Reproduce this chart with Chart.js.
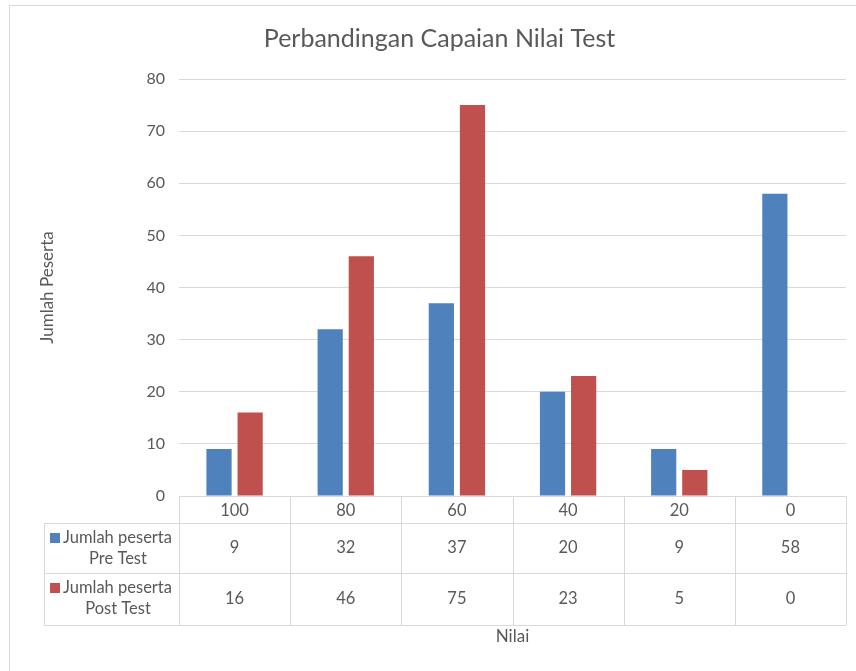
<!DOCTYPE html>
<html>
<head>
<meta charset="utf-8">
<style>
  html, body { margin: 0; padding: 0; background: #ffffff; }
  #wrap { position: relative; width: 856px; height: 671px; }
</style>
<script src="https://cdn.jsdelivr.net/npm/chart.js@4.4.0/dist/chart.umd.min.js"></script>
</head>
<body>
<div id="wrap"><canvas id="chart" width="856" height="671"></canvas></div>
<script>
// Data dari grafik
const categories = ['100', '80', '60', '40', '20', '0'];
const preTest = [9, 32, 37, 20, 9, 58];
const postTest = [16, 46, 75, 23, 5, 0];
const seriesLabels = [['Jumlah peserta', 'Pre Test'], ['Jumlah peserta', 'Post Test']];
const seriesColors = ['#4F81BD', '#C0504D'];
const yMax = 80;
const yStep = 10;

const textColor = '#595959';
const lineColor = '#D9D9D9';
const fontFamily = 'Lato, "Open Sans", sans-serif';

// Tabel data di bawah sumbu x
const dataTablePlugin = {
    id: 'dataTable',
    beforeDraw(chart) {
        const ctx = chart.ctx;
        ctx.save();
        ctx.fillStyle = '#ffffff';
        ctx.fillRect(0, 0, chart.width, chart.height);
        ctx.strokeStyle = lineColor;
        ctx.lineWidth = 1;
        ctx.strokeRect(9.5, 5.5, chart.width + 20, chart.height + 20);
        ctx.restore();
    },
    afterDraw(chart) {
        const ctx = chart.ctx;
        const area = chart.chartArea;
        const xScale = chart.scales.x;
        const colW = (area.right - area.left) / categories.length;
        const top = area.bottom;
        const headBottom = top + 27;
        const row1Bottom = headBottom + 50;
        const row2Bottom = row1Bottom + 52;
        const legendLeft = 44;

        ctx.save();
        ctx.strokeStyle = lineColor;
        ctx.lineWidth = 1;
        ctx.beginPath();
        // garis vertikal kolom
        for (let i = 0; i <= categories.length; i++) {
            const x = Math.round(area.left + i * colW) + 0.5;
            ctx.moveTo(x, top);
            ctx.lineTo(x, row2Bottom);
        }
        ctx.moveTo(legendLeft + 0.5, headBottom);
        ctx.lineTo(legendLeft + 0.5, row2Bottom);
        [headBottom, row1Bottom, row2Bottom].forEach(y => {
            ctx.moveTo(legendLeft, Math.round(y) + 0.5);
            ctx.lineTo(area.right, Math.round(y) + 0.5);
        });
        ctx.stroke();

        ctx.fillStyle = textColor;
        ctx.textAlign = 'center';
        ctx.textBaseline = 'middle';
        ctx.font = '16.5px ' + fontFamily;
        categories.forEach((c, i) => {
            const x = xScale.getPixelForValue(i);
            ctx.fillText(c, x, (top + headBottom) / 2 + 1);
            ctx.fillText(String(preTest[i]), x, (headBottom + row1Bottom) / 2);
            ctx.fillText(String(postTest[i]), x, (row1Bottom + row2Bottom) / 2);
        });

        // legenda di kolom pertama
        const rowTops = [headBottom, row1Bottom];
        rowTops.forEach((rt, r) => {
            ctx.fillStyle = seriesColors[r];
            ctx.fillRect(50, rt + 10, 10, 10);
            ctx.fillStyle = textColor;
            ctx.textAlign = 'left';
            ctx.fillText(seriesLabels[r][0], 63, rt + 15);
            ctx.textAlign = 'center';
            ctx.fillText(seriesLabels[r][1], 118, rt + 36);
        });

        // judul sumbu x
        ctx.font = '17px ' + fontFamily;
        ctx.fillText('Nilai', (area.left + area.right) / 2, row2Bottom + 12);
        ctx.restore();
    }
};

new Chart(document.getElementById('chart'), {
    type: 'bar',
    data: {
        labels: categories,
        datasets: [
            { label: 'Jumlah peserta Pre Test', data: preTest, backgroundColor: seriesColors[0] },
            { label: 'Jumlah peserta Post Test', data: postTest, backgroundColor: seriesColors[1] }
        ]
    },
    options: {
        responsive: false,
        animation: false,
        layout: { padding: { left: 33, right: 10, top: 18, bottom: 175 } },
        datasets: { bar: { categoryPercentage: 0.56, barPercentage: 0.81 } },
        plugins: {
            legend: { display: false },
            tooltip: { enabled: false },
            title: {
                display: true,
                text: 'Perbandingan Capaian Nilai Test',
                color: textColor,
                font: { family: fontFamily, size: 25, weight: 'normal' },
                padding: { top: 6, bottom: 25 }
            }
        },
        scales: {
            x: { display: false },
            y: {
                min: 0,
                max: yMax,
                afterFit(scale) { scale.width = 146; },
                ticks: {
                    stepSize: yStep,
                    color: textColor,
                    padding: 14,
                    font: { family: fontFamily, size: 16 }
                },
                grid: { color: lineColor, drawTicks: false },
                border: { display: false },
                title: {
                    display: true,
                    text: 'Jumlah Peserta',
                    color: textColor,
                    font: { family: fontFamily, size: 17 }
                }
            }
        }
    },
    plugins: [dataTablePlugin]
});
</script>
</body>
</html>
